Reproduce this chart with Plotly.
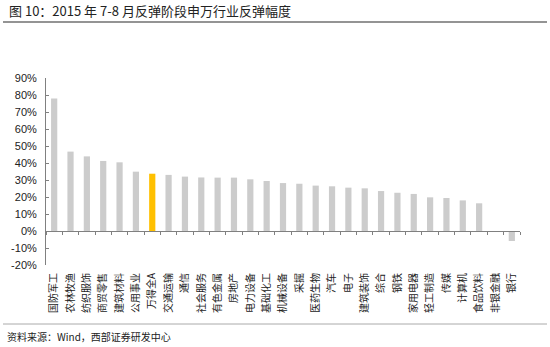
import plotly.graph_objects as go

categories = ["国防军工", "农林牧渔", "纺织服饰", "商贸零售", "建筑材料", "公用事业", "万得全A",
              "交通运输", "通信", "社会服务", "有色金属", "房地产", "电力设备", "基础化工",
              "机械设备", "采掘", "医药生物", "汽车", "电子", "建筑装饰", "综合", "钢铁",
              "家用电器", "轻工制造", "传媒", "计算机", "食品饮料", "非银金融", "银行"]
values = [78.0, 46.7, 43.9, 41.2, 40.4, 34.9, 33.7,
          33.0, 32.0, 31.5, 31.4, 31.4, 30.4, 29.4,
          28.2, 27.8, 26.7, 26.3, 25.5, 25.1, 23.5, 22.5,
          21.8, 19.8, 19.4, 18.0, 16.3, 0.0, -5.9]
highlight = "万得全A"
y_ticks = [-20, -10, 0, 10, 20, 30, 40, 50, 60, 70, 80, 90]
y_range = [-20, 90]

bar_colors = ["#FFC000" if c == highlight else "#CCCCCC" for c in categories]

W, H = 550, 347
ML, MR, MT, MB = 46, 30, 78, 82
PW, PH = W - ML - MR, H - MT - MB


def px_x(x):
    return (x - ML) / PW


def px_y(y):
    return (H - MB - y) / PH


fig = go.Figure()
fig.add_trace(go.Bar(x=categories, y=values, marker=dict(color=bar_colors, line=dict(width=0)),
                     showlegend=False, hoverinfo="x+y"))
fig.add_trace(go.Scatter(x=categories, y=[None] * len(categories), xaxis="x2", mode="lines",
                         showlegend=False, hoverinfo="skip"))

zero_pos = (0 - y_range[0]) / (y_range[1] - y_range[0])

fig.update_layout(
    width=W, height=H,
    margin=dict(l=ML, r=MR, t=MT, b=MB),
    paper_bgcolor="white", plot_bgcolor="white",
    bargap=0.62,
    font=dict(family="Liberation Sans, Arial, sans-serif", color="#222222"),
    xaxis=dict(type="category", showline=False, ticks="", showgrid=False, zeroline=False,
               tickangle=-90, tickfont=dict(family="Noto Sans CJK SC", size=10, color="#222222"),
               ticklabelstandoff=5),
    xaxis2=dict(type="category", overlaying="x", matches="x", anchor="free", position=zero_pos,
                showline=True, linecolor="#808080", linewidth=1, ticks="outside", ticklen=3,
                tickcolor="#808080", tickson="boundaries", showticklabels=False, showgrid=False,
                zeroline=False),
    yaxis=dict(range=y_range, tickvals=y_ticks, ticktext=[f"{v}%" for v in y_ticks],
               showline=True, linecolor="#808080", linewidth=1, ticks="inside", ticklen=3,
               tickcolor="#808080", showgrid=False, zeroline=False, ticklabelstandoff=6,
               tickfont=dict(size=11, color="#222222")),
    shapes=[
        dict(type="line", xref="paper", yref="paper", x0=px_x(3), x1=px_x(547),
             y0=px_y(22), y1=px_y(22), line=dict(color="#707070", width=1.5)),
        dict(type="line", xref="paper", yref="paper", x0=px_x(3), x1=px_x(547),
             y0=px_y(324), y1=px_y(324), line=dict(color="#AAAAAA", width=1)),
    ],
    annotations=[
        dict(text="图 10：2015 年 7-8 月反弹阶段申万行业反弹幅度", xref="paper", yref="paper",
             x=px_x(7), y=px_y(10), xanchor="left", yanchor="middle",
             showarrow=False, font=dict(family="Noto Sans CJK SC", size=13, color="#222222")),
        dict(text="资料来源：Wind，西部证券研发中心", xref="paper", yref="paper",
             x=px_x(5), y=px_y(336), xanchor="left", yanchor="middle",
             showarrow=False, font=dict(family="Noto Sans CJK SC", size=10, color="#222222")),
    ],
)

fig.write_html("out.html")
